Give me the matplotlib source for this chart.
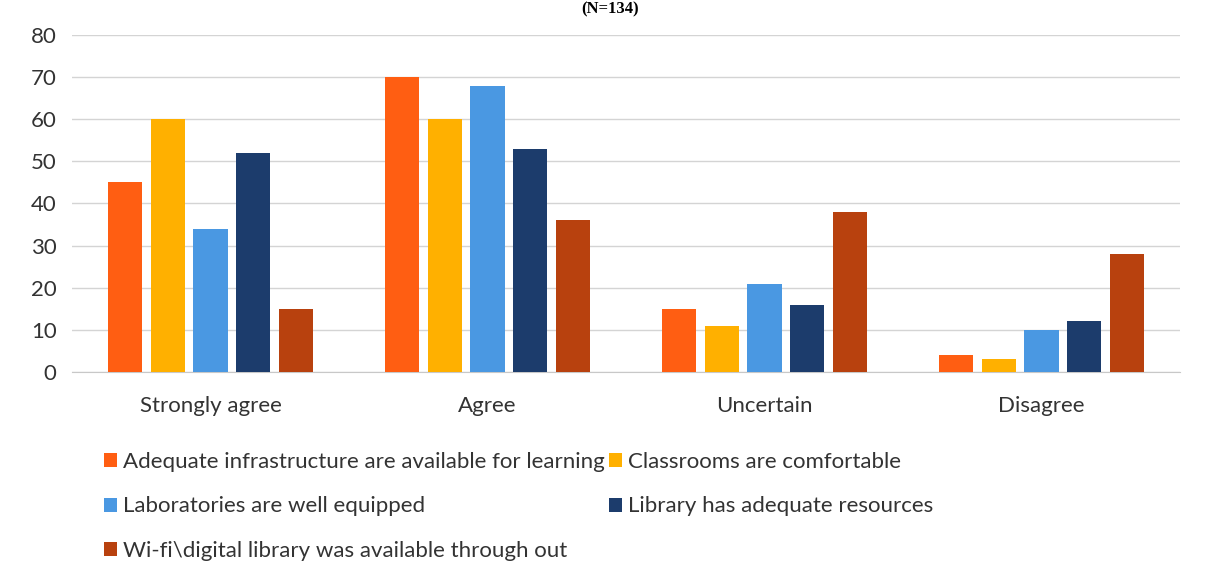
import matplotlib
matplotlib.use("Agg")
import matplotlib.pyplot as plt
import numpy as np

plt.rcParams["font.family"] = ["Lato", "DejaVu Sans"]

categories = ["Strongly agree", "Agree", "Uncertain", "Disagree"]

series_names = [
    "Adequate infrastructure are available for learning",
    "Classrooms are comfortable",
    "Laboratories are well equipped",
    "Library has adequate resources",
    "Wi-fi\\digital library was available through out",
]
infrastructure = [45, 70, 15, 4]
classrooms = [60, 60, 11, 3]
laboratories = [34, 68, 21, 10]
library = [52, 53, 16, 12]
wifi = [15, 36, 38, 28]

colors = ["#FF5E12", "#FFB000", "#4A98E2", "#1C3C6C", "#B8410E"]
yticks = [0, 10, 20, 30, 40, 50, 60, 70, 80]

values = [infrastructure, classrooms, laboratories, library, wifi]

W, H = 1212, 582
fig = plt.figure(figsize=(W / 100, H / 100), dpi=100)
ax = fig.add_axes([72 / W, 1 - 372 / H, (1180 - 72) / W, (372 - 35) / H])

x = np.arange(len(categories))
slot = 0.155
width = 0.123
handles = []
for i, (vals, col) in enumerate(zip(values, colors)):
    b = ax.bar(x + (i - 2) * slot, vals, width, color=col, zorder=3,
               label=series_names[i])
    handles.append(b)

ax.set_xlim(-0.5, len(categories) - 0.5)
ax.set_ylim(0, 80)
ax.set_yticks(yticks)
ax.set_xticks(x)
ax.set_xticklabels(categories, fontsize=16, color="#333333")
ax.tick_params(axis="y", labelsize=16, labelcolor="#333333", length=0, pad=11)
ax.tick_params(axis="x", length=0, pad=17)
ax.grid(axis="y", color="#D4D4D4", linewidth=1.0, zorder=0)
for s in ["top", "right", "left"]:
    ax.spines[s].set_visible(False)
ax.spines["bottom"].set_color("#C8C8C8")

# sample size note at the very top (cropped in the scan)
fig.text(0.503, 1 - 1 / H, "(N=134)", ha="center", va="top", fontsize=12,
         fontweight="bold", family=["Liberation Serif", "DejaVu Serif"])

order = [0, 2, 4, 1, 3]
leg = fig.legend([handles[k] for k in order], [series_names[k] for k in order],
                 ncol=2, loc="upper left",
                 bbox_to_anchor=(104 / W, 1 - 452 / H),
                 frameon=False, fontsize=16, handlelength=0.6,
                 handleheight=0.6, handletextpad=0.25, labelspacing=1.1,
                 columnspacing=0.2, borderpad=0, borderaxespad=0)
for t in leg.get_texts():
    t.set_color("#333333")

fig.savefig("out.png", dpi=100, facecolor="white")
